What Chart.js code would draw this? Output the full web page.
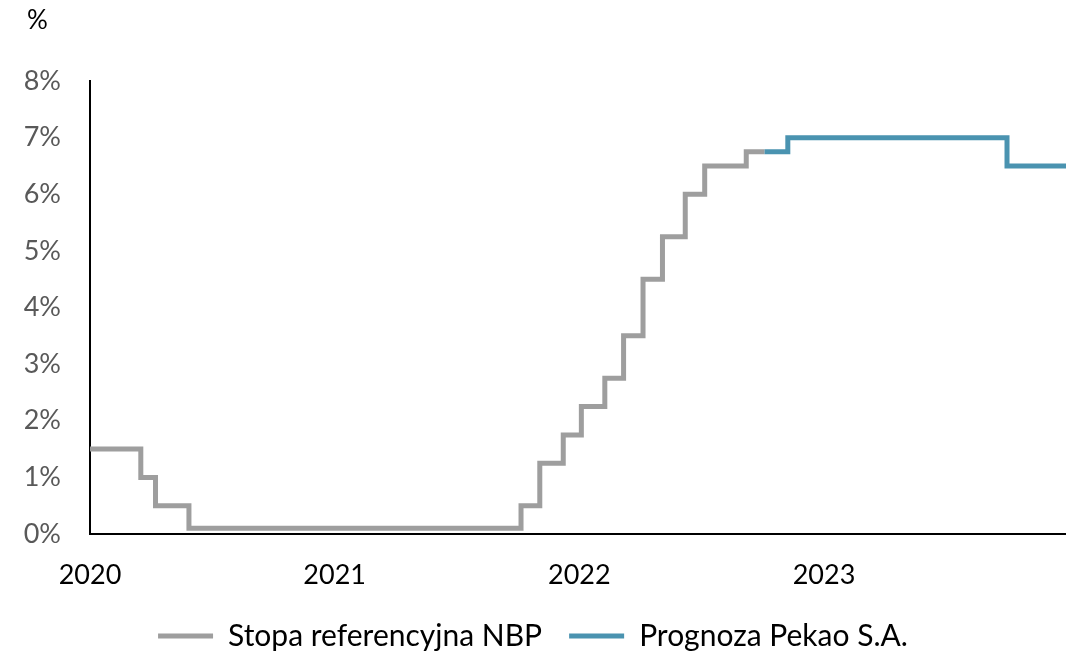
<!DOCTYPE html>
<html><head><meta charset="utf-8">
<script src="https://cdn.jsdelivr.net/npm/chart.js@4"></script>
<style>html,body{margin:0;padding:0;background:#fff}#wrap{width:1066px;height:651px}</style>
</head><body><div id="wrap"><canvas id="c" width="1066" height="651"></canvas></div>
<script>
// ---- data ----
const yearTicks = [2020, 2021, 2022, 2023];
const yTicks = [0, 1, 2, 3, 4, 5, 6, 7, 8];
const nbpDates = ['2020-01-01','2020-03-17','2020-04-08','2020-05-28','2021-10-06','2021-11-03','2021-12-08','2022-01-04','2022-02-08','2022-03-08','2022-04-06','2022-05-05','2022-06-08','2022-07-07','2022-09-07','2022-10-04'];
const nbpRates = [1.5, 1.0, 0.5, 0.1, 0.5, 1.25, 1.75, 2.25, 2.75, 3.5, 4.5, 5.25, 6.0, 6.5, 6.75, 6.75];
const forecastDates = ['2022-10-04','2022-11-08','2023-10-01','2023-12-28'];
const forecastRates = [6.75, 7.0, 6.5, 6.5];
const seriesNames = ['Stopa referencyjna NBP', 'Prognoza Pekao S.A.'];
const xMin = '2020-01-01', xMax = '2023-12-28';

function yearFrac(s) {
  const d = new Date(s + 'T00:00:00Z');
  const y = d.getUTCFullYear();
  const start = Date.UTC(y, 0, 1), end = Date.UTC(y + 1, 0, 1);
  return y + (d.getTime() - start) / (end - start);
}
const toPoints = (dates, vals) => dates.map((d, i) => ({x: yearFrac(d), y: vals[i]}));

const FONT = 'Lato';
const pctLabel = {
  id: 'pctLabel',
  afterDraw(chart) {
    const ctx = chart.ctx;
    ctx.save();
    ctx.font = '26px ' + FONT;
    ctx.fillStyle = '#000';
    ctx.textBaseline = 'middle';
    ctx.textAlign = 'left';
    ctx.fillText('%', 27, 21);
    ctx.restore();
  }
};

new Chart(document.getElementById('c'), {
  type: 'line',
  data: {
    datasets: [
      {label: seriesNames[0], data: toPoints(nbpDates, nbpRates), stepped: true,
       borderColor: '#9e9e9e', backgroundColor: '#9e9e9e', borderWidth: 5, pointRadius: 0,
       borderJoinStyle: 'miter', fill: false},
      {label: seriesNames[1], data: toPoints(forecastDates, forecastRates), stepped: true,
       borderColor: '#4a93b0', backgroundColor: '#4a93b0', borderWidth: 5, pointRadius: 0,
       borderJoinStyle: 'miter', fill: false}
    ]
  },
  options: {
    responsive: false, animation: false,
    layout: {padding: {top: 81, left: 0, right: 0, bottom: -10}},
    scales: {
      x: {
        type: 'linear', min: yearFrac(xMin), max: yearFrac(xMax),
        grid: {display: false, drawTicks: false},
        border: {display: true, color: '#000', width: 2},
        afterBuildTicks: s => { s.ticks = yearTicks.map(v => ({value: v})); },
        afterFit: s => { s.height = 60; },
        ticks: {autoSkip: false, maxRotation: 0, padding: 25, color: '#000',
                font: {family: FONT, size: 27}, callback: v => String(v)}
      },
      y: {
        min: 0, max: 8,
        grid: {display: false, drawTicks: false},
        border: {display: true, color: '#000', width: 2},
        afterBuildTicks: s => { s.ticks = yTicks.map(v => ({value: v})); },
        afterFit: s => { s.width = 90; },
        ticks: {padding: 29, color: '#595959', font: {family: FONT, size: 27},
                callback: v => v + '%'}
      }
    },
    plugins: {
      legend: {position: 'bottom',
        labels: {boxWidth: 55, boxHeight: 5, padding: 27, color: '#000',
                 font: {family: FONT, size: 30},
                 generateLabels: chart => Chart.defaults.plugins.legend.labels.generateLabels(chart)
                   .map(l => Object.assign(l, {lineWidth: 0}))}},
      tooltip: {enabled: false}
    }
  },
  plugins: [pctLabel]
});
</script></body></html>
